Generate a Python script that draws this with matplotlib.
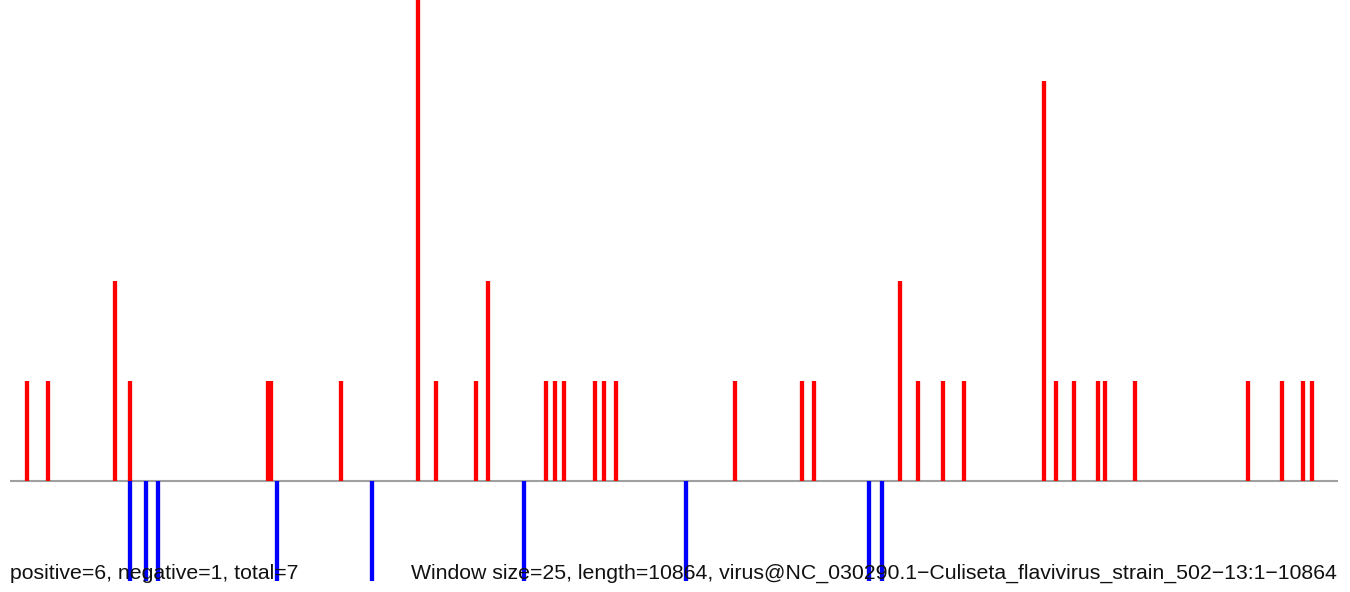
import matplotlib
matplotlib.use('Agg')
import matplotlib.pyplot as plt

genome_length = 10864
window_size = 25
seq_name = "virus@NC_030290.1\u2212Culiseta_flavivirus_strain_502\u221213:1\u221210864"

# positive strand hits (position, count)
pos_x = [140, 308, 859, 982, 2111, 2135, 2708, 3338, 3486, 3813, 3911,
         4385, 4459, 4532, 4786, 4860, 4958, 5931, 6479, 6577, 7281, 7428,
         7633, 7804, 8459, 8557, 8704, 8901, 8958, 9203, 10127, 10405,
         10577, 10651]
pos_y = [1, 1, 2, 1, 1, 1, 1, 5, 1, 1, 2,
         1, 1, 1, 1, 1, 1, 1, 1, 1, 2, 1,
         1, 1, 4, 1, 1, 1, 1, 1, 1, 1,
         1, 1]

# negative strand hits
neg_x = [982, 1110, 1211, 2182, 2961, 4202, 5527, 7027, 7131]
neg_y = [1, 1, 1, 1, 1, 1, 1, 1, 1]

n_pos = 6
n_neg = 1

W, H, dpi = 1350, 592, 100
fig = plt.figure(figsize=(W/dpi, H/dpi), dpi=dpi)
ax = fig.add_axes([10/W, 0, 1328/W, 1])
ax.set_xlim(1, genome_length)
ax.set_ylim(-1.11, 4.81)
ax.axis('off')

ax.plot([1, genome_length], [0, 0], color='#a0a0a0', lw=1.5, zorder=1,
        solid_capstyle='butt')
ax.vlines(pos_x, 0, pos_y, color='#ff0000', lw=3.1, capstyle='butt', zorder=2)
ax.vlines(neg_x, 0, [-v for v in neg_y], color='#0000ff', lw=3.1,
          capstyle='butt', zorder=2)

fs = 15.35
fig.text(10/W, 1 - 579/H, "positive=%d, negative=%d, total=%d" % (n_pos, n_neg, n_pos + n_neg),
         ha='left', va='baseline', fontsize=fs, family='Liberation Sans', color='#111111')
fig.text(1337/W, 1 - 579/H,
         "Window size=%d, length=%d, %s" % (window_size, genome_length, seq_name),
         ha='right', va='baseline', fontsize=fs, family='Liberation Sans', color='#111111')

fig.savefig('out.png', dpi=dpi)
